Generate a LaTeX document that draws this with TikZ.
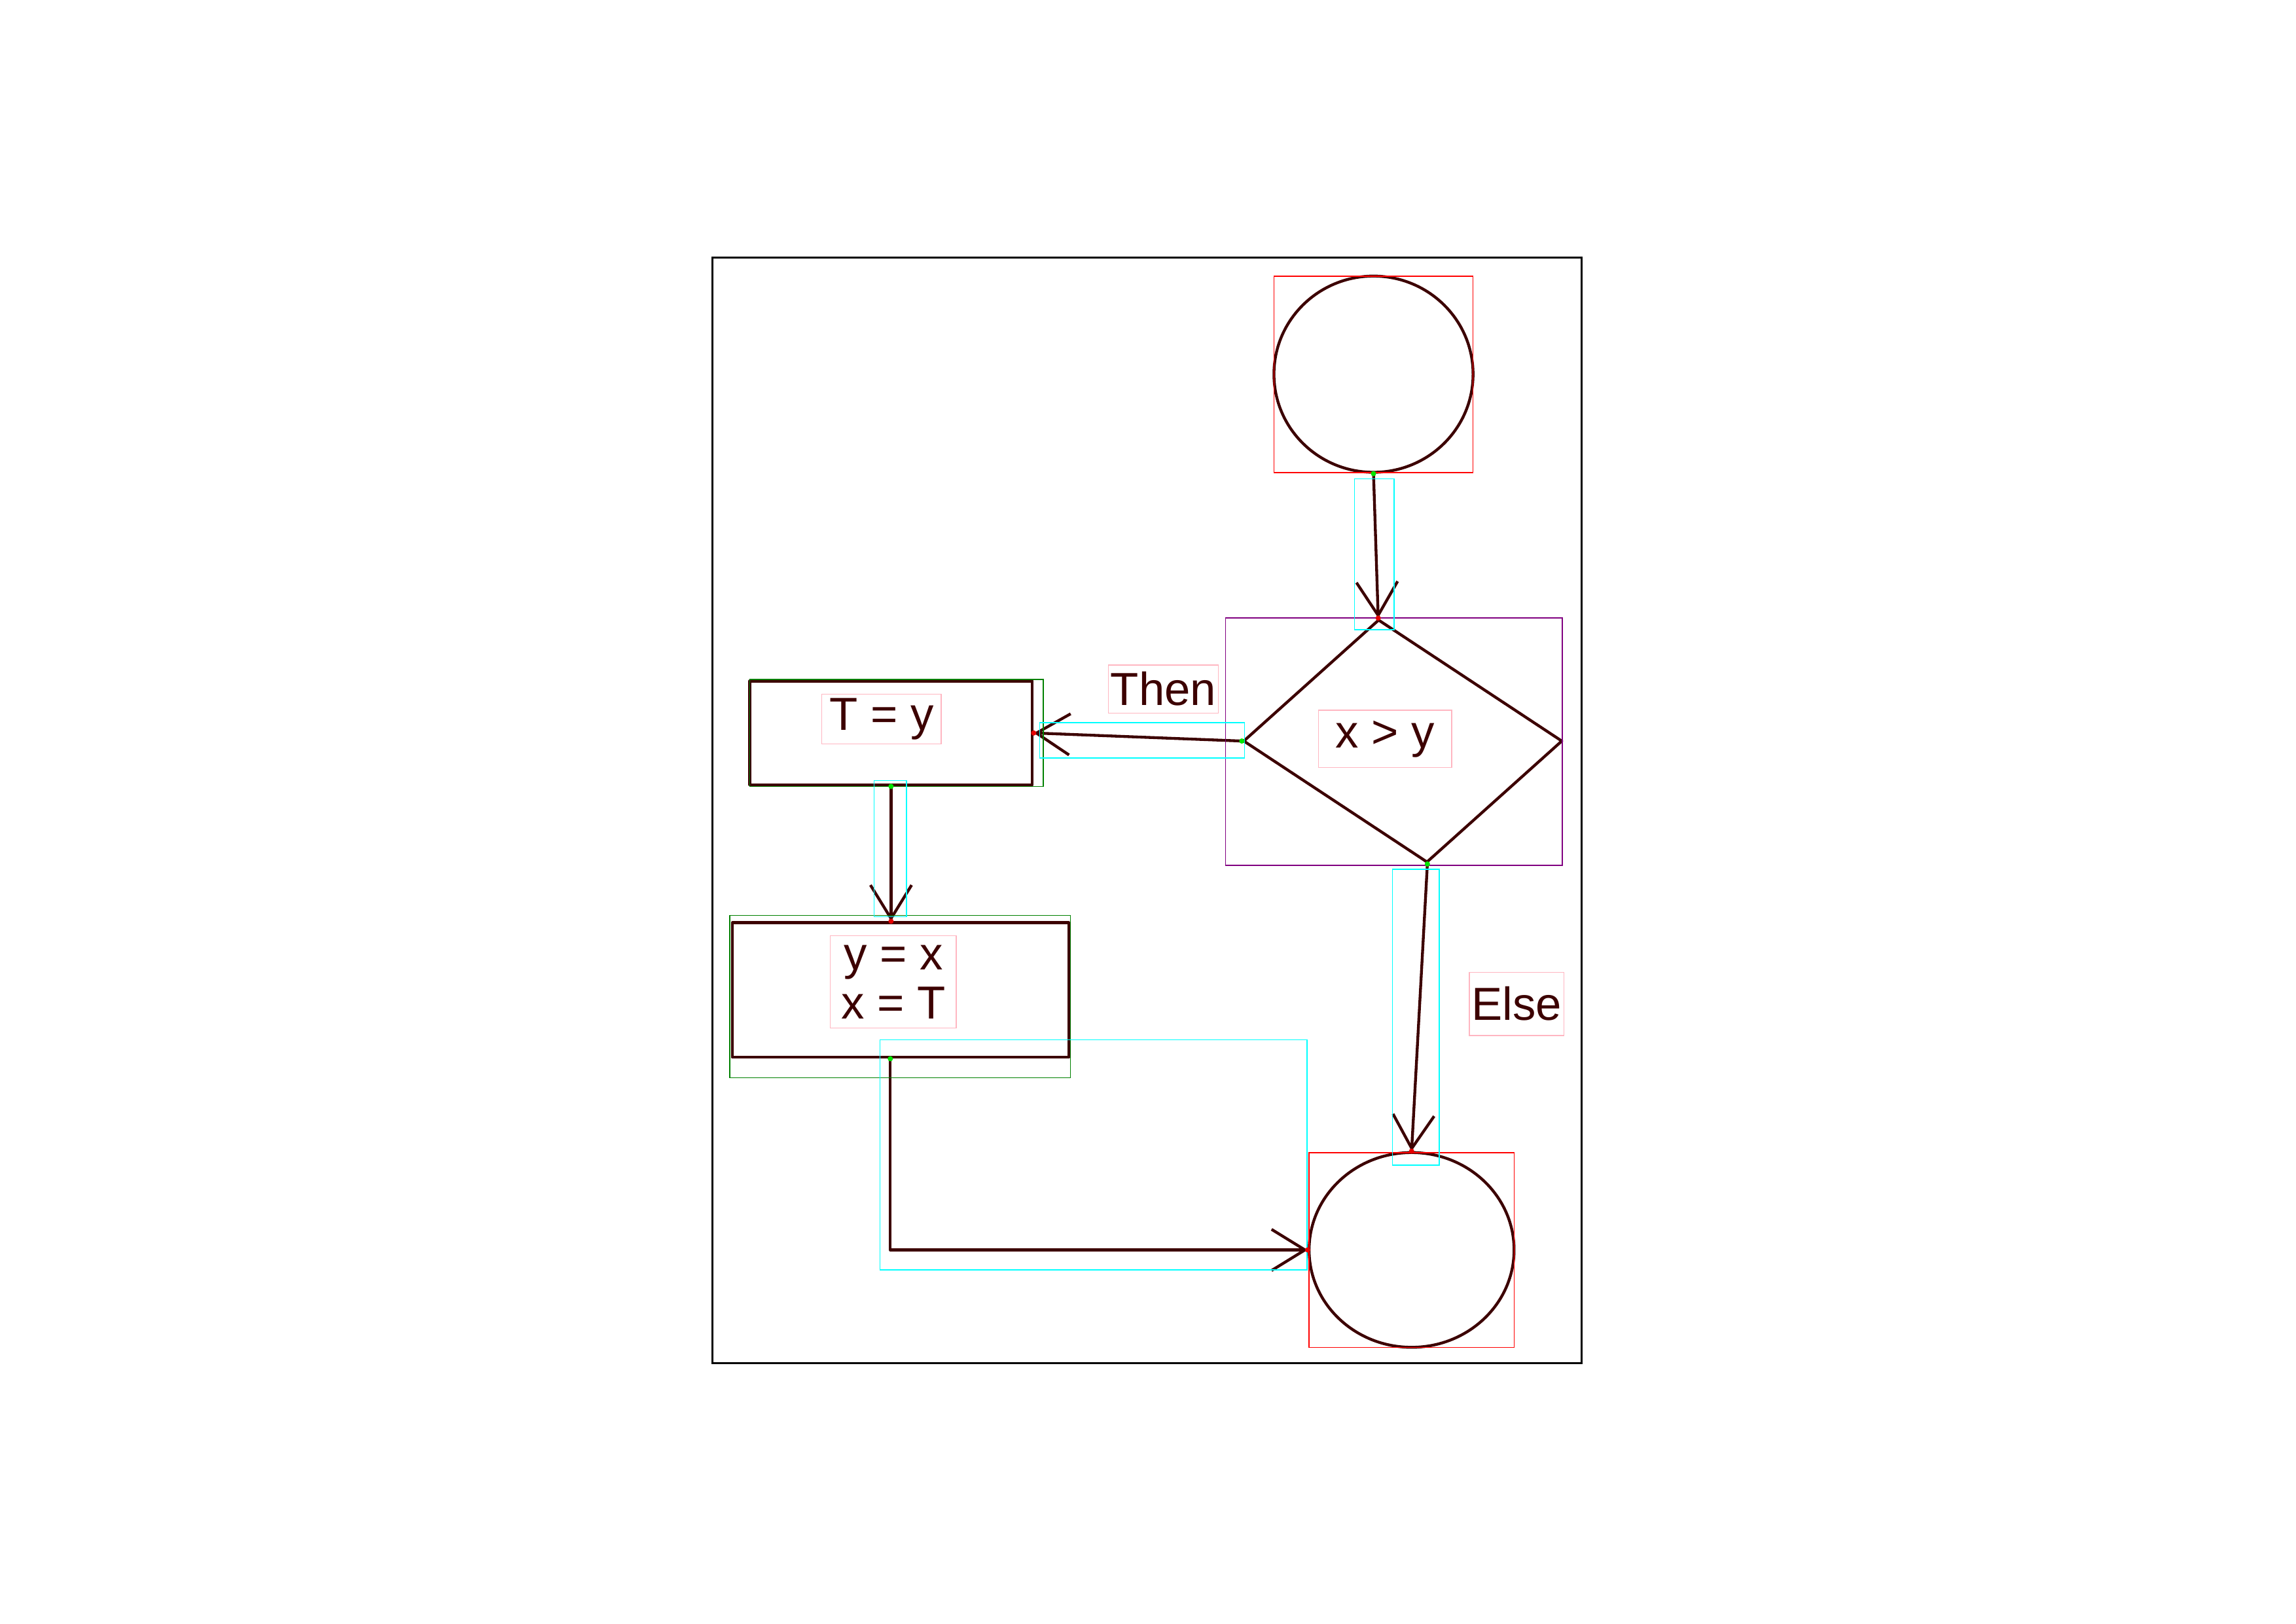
\documentclass[tikz,border=0pt]{standalone}
\usepackage{fontspec}
\setmainfont{Liberation Sans}
\usetikzlibrary{shapes.geometric,arrows.meta}
\definecolor{ink}{RGB}{60,0,0}
\definecolor{boxpurple}{RGB}{128,0,128}
\definecolor{boxgreen}{RGB}{0,128,0}
\definecolor{boxcyan}{RGB}{0,255,255}
\definecolor{boxpink}{RGB}{255,182,193}
\tikzset{
    pen/.style={draw=ink,line width=1.1pt,line cap=round,line join=round},
    arr/.style={pen,-{Straight Barb[length=13pt,width=16pt]}},
    tag/.style={draw=boxpink,line width=0.4pt,inner sep=0pt,text=ink,align=center,font=\fontsize{18}{19}\selectfont},
    thinbox/.style={line width=0.4pt}
}
\begin{document}
\begin{tikzpicture}[x=0.02cm,y=-0.02cm]
            \useasboundingbox (0,0) rectangle (1568,1108.5);
            \draw[line width=0.8pt] (486.5,175.7) rectangle (1080,931);
            \node[pen,ellipse,minimum width=2.72cm,minimum height=2.68cm] (start) at (938,255.5) {};
            \begin{scope}[shift={(958,506)},xslant=-0.2]
                \node[pen,diamond,inner sep=0pt,minimum width=4.36cm,minimum height=3.32cm,transform shape] (dec) at (0,0) {};
            \end{scope}
            \node[pen,rectangle,minimum width=3.86cm,minimum height=1.42cm] (tset) at (608.5,500.5) {};
            \node[pen,rectangle,minimum width=4.6cm,minimum height=1.84cm] (swap) at (615,676) {};
            \node[pen,ellipse,minimum width=2.8cm,minimum height=2.66cm] (stop) at (964,853.5) {};
            \node[tag,minimum width=1.82cm,minimum height=0.78cm] (tcond) at (946,504.5) {x > y};
            \node[tag,minimum width=1.63cm,minimum height=0.68cm] (ttset) at (602,491) {T = y};
            \node[tag,minimum width=1.72cm,minimum height=1.26cm] (tswap) at (610,670.5) {y = x\\x = T};
            \node[tag,minimum width=1.5cm,minimum height=0.66cm] (tthen) at (794.5,470.5) {Then};
            \node[tag,minimum width=1.29cm,minimum height=0.86cm] (telse) at (1035.75,685.5) {Else};
            \coordinate (swapin) at (tset.south |- swap.north);
            \coordinate (swapout) at ([xshift=-0.14cm]swap.south);
            \draw[arr] (start.south) -- (dec.north);
            \draw[arr] (dec.west) -- (tset.east);
            \draw[arr] (tset.south) -- (swapin);
            \draw[arr] (swapout) |- (stop.west);
            \draw[arr] (dec.south) -- (stop.north);
            \draw[thinbox,red] (870,188.6) rectangle (1006,322.7);
            \draw[thinbox,red] (894,787) rectangle (1034,920);
            \draw[thinbox,boxpurple] (837,422) rectangle (1067,591);
            \draw[thinbox,boxgreen] (512,464) rectangle (712.5,537);
            \draw[thinbox,boxgreen] (498.5,625) rectangle (731,736);
            \foreach \a/\b/\c/\d in {925/327/952/430,710/493.5/850/517.6,597/533/619/626,601/710/892.6/867,951/593.6/983/795.6}
                \draw[thinbox,boxcyan] (\a,\b) rectangle (\c,\d);
            \foreach \p in {start.south,dec.west,tset.south,swapout,dec.south}
                \fill[green!90!black] (\p) circle (1.8);
            \foreach \p in {dec.north,tset.east,swapin,stop.west,stop.north}
                \fill[red!90!black] (\p) circle (1.8);
        \end{tikzpicture}
\end{document}
